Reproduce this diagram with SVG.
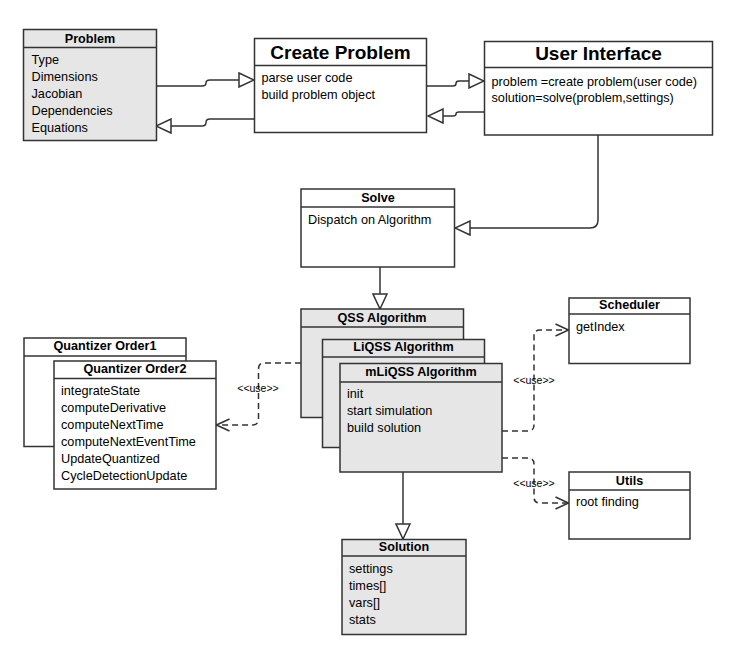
<svg xmlns="http://www.w3.org/2000/svg" width="738" height="663" viewBox="0 0 738 663">
<style>
.box{fill:#ffffff;stroke:#333333;stroke-width:1.5}
.gray{fill:#e6e6e6;stroke:#333333;stroke-width:1.5}
.sep{stroke:#333333;stroke-width:1.5;fill:none}
.t{font-family:"Liberation Sans",Arial,sans-serif;font-size:12.7px;fill:#000}
.h{font-family:"Liberation Sans",Arial,sans-serif;font-size:12.6px;font-weight:bold;fill:#000;text-anchor:middle}
.H{font-family:"Liberation Sans",Arial,sans-serif;font-size:19px;font-weight:bold;fill:#000;text-anchor:middle}
.lbl{font-family:"Liberation Sans",Arial,sans-serif;font-size:10.5px;fill:#000;text-anchor:middle}
.edge{fill:none;stroke:#333333;stroke-width:1.5}
.dash{fill:none;stroke:#333333;stroke-width:1.5;stroke-dasharray:6 4}
</style>
<defs>
<marker id="tri" viewBox="-1 -1 17 16" refX="15" refY="7" markerWidth="17" markerHeight="16" markerUnits="userSpaceOnUse" orient="auto">
<path d="M0,0 L15,7 L0,14 Z" fill="#ffffff" stroke="#333333" stroke-width="1.5"/>
</marker>
<marker id="open" viewBox="-1 -1 16 14" refX="13" refY="6" markerWidth="16" markerHeight="14" markerUnits="userSpaceOnUse" orient="auto">
<path d="M0,0 L13,6 L0,12" fill="none" stroke="#333333" stroke-width="1.5" stroke-dasharray="none"/>
</marker>
</defs>
<rect width="738" height="663" fill="#ffffff"/>

<g id="connectors">
<path class="edge" d="M156,86 L202,86 Q206,86 206,83 Q206,80 210,80 L254,80" marker-end="url(#tri)"/>
<path class="edge" d="M254,119 L210,119 Q206,119 206,122.5 Q206,126 202,126 L156,126" marker-end="url(#tri)"/>
<path class="edge" d="M426,86 L453,86 Q456,86 456,83.5 Q456,81 459,81 L484,81" marker-end="url(#tri)"/>
<path class="edge" d="M484,112 L459,112 Q456,112 456,114 Q456,116 453,116 L428,116" marker-end="url(#tri)"/>
<path class="edge" d="M598,135 L598,220 Q598,228 590,228 L455,228" marker-end="url(#tri)"/>
<path class="edge" d="M380,267 L380,309" marker-end="url(#tri)"/>
<path class="edge" d="M403,472 L403,539" marker-end="url(#tri)"/>
<path class="dash" d="M301,363 L264,363 Q258.5,363 258.5,369 L258.5,419 Q258.5,425 252.5,425 L216.5,425" marker-end="url(#open)"/>
<path class="dash" d="M502,431 L528,431 Q534,431 534,425 L534,336 Q534,330 540,330 L568.5,330" marker-end="url(#open)"/>
<path class="dash" d="M502,458 L528,458 Q534,458 534,464 L534,497 Q534,503 540,503 L568.5,503" marker-end="url(#open)"/>
<text class="lbl" x="258" y="391.5">&lt;&lt;use&gt;&gt;</text>
<text class="lbl" x="534" y="384">&lt;&lt;use&gt;&gt;</text>
<text class="lbl" x="534" y="486.5">&lt;&lt;use&gt;&gt;</text>
</g>

<g id="problem">
<rect class="gray" x="23.5" y="29.5" width="133" height="111"/>
<line class="sep" x1="23.5" y1="47.5" x2="156.5" y2="47.5"/>
<text class="h" x="90" y="42.5">Problem</text>
<text class="t" x="31.5" y="63.5">Type</text>
<text class="t" x="31.5" y="80.5">Dimensions</text>
<text class="t" x="31.5" y="97.5">Jacobian</text>
<text class="t" x="31.5" y="114.5">Dependencies</text>
<text class="t" x="31.5" y="131.5">Equations</text>
</g>

<g id="create-problem">
<rect class="box" x="254.5" y="38.5" width="172" height="94"/>
<line class="sep" x1="254.5" y1="65.5" x2="426.5" y2="65.5"/>
<text class="H" x="340.5" y="58.5">Create Problem</text>
<text class="t" x="261.5" y="82">parse user code</text>
<text class="t" x="261.5" y="98.5">build problem object</text>
</g>

<g id="user-interface">
<rect class="box" x="484.5" y="41.5" width="228" height="93.5"/>
<line class="sep" x1="484.5" y1="67.5" x2="712.5" y2="67.5"/>
<text class="H" x="598.5" y="60">User Interface</text>
<text class="t" x="491.5" y="85.5">problem =create problem(user code)</text>
<text class="t" x="491.5" y="102">solution=solve(problem,settings)</text>
</g>

<g id="solve">
<rect class="box" x="301" y="189" width="153.5" height="78"/>
<line class="sep" x1="301" y1="207" x2="454.5" y2="207"/>
<text class="h" x="378" y="201.5">Solve</text>
<text class="t" x="308" y="223.5">Dispatch on Algorithm</text>
</g>

<g id="qss">
<rect class="gray" x="301" y="309" width="162.5" height="108.5"/>
<line class="sep" x1="301" y1="327" x2="463.5" y2="327"/>
<text class="h" x="382" y="321.5">QSS Algorithm</text>
</g>

<g id="liqss">
<rect class="gray" x="322.5" y="339.5" width="162" height="108"/>
<line class="sep" x1="322.5" y1="357" x2="484.5" y2="357"/>
<text class="h" x="403.5" y="350.5">LiQSS Algorithm</text>
</g>

<g id="mliqss">
<rect class="gray" x="340" y="363.5" width="162" height="108.5"/>
<line class="sep" x1="340" y1="382" x2="502" y2="382"/>
<text class="h" x="421" y="375.5">mLiQSS Algorithm</text>
<text class="t" x="347" y="397.5">init</text>
<text class="t" x="347" y="414.5">start simulation</text>
<text class="t" x="347" y="431.5">build solution</text>
</g>

<g id="quantizer1">
<rect class="box" x="24" y="338" width="162" height="108.5"/>
<line class="sep" x1="24" y1="356" x2="186" y2="356"/>
<text class="h" x="105" y="349.5">Quantizer Order1</text>
</g>

<g id="quantizer2">
<rect class="box" x="54" y="361" width="162" height="128"/>
<line class="sep" x1="54" y1="378.5" x2="216" y2="378.5"/>
<text class="h" x="135" y="373">Quantizer Order2</text>
<text class="t" x="61" y="395">integrateState</text>
<text class="t" x="61" y="412">computeDerivative</text>
<text class="t" x="61" y="429">computeNextTime</text>
<text class="t" x="61" y="446">computeNextEventTime</text>
<text class="t" x="61" y="463">UpdateQuantized</text>
<text class="t" x="61" y="480">CycleDetectionUpdate</text>
</g>

<g id="scheduler">
<rect class="box" x="569" y="298" width="121" height="65.5"/>
<line class="sep" x1="569" y1="314" x2="690" y2="314"/>
<text class="h" x="629.5" y="308.5">Scheduler</text>
<text class="t" x="576" y="331">getIndex</text>
</g>

<g id="utils">
<rect class="box" x="569" y="472" width="121" height="67"/>
<line class="sep" x1="569" y1="490" x2="690" y2="490"/>
<text class="h" x="629.5" y="484.5">Utils</text>
<text class="t" x="576" y="506">root finding</text>
</g>

<g id="solution">
<rect class="gray" x="342" y="539.5" width="124" height="95"/>
<line class="sep" x1="342" y1="556" x2="466" y2="556"/>
<text class="h" x="404" y="551">Solution</text>
<text class="t" x="349" y="573">settings</text>
<text class="t" x="349" y="590">times[]</text>
<text class="t" x="349" y="607">vars[]</text>
<text class="t" x="349" y="624">stats</text>
</g>
</svg>
